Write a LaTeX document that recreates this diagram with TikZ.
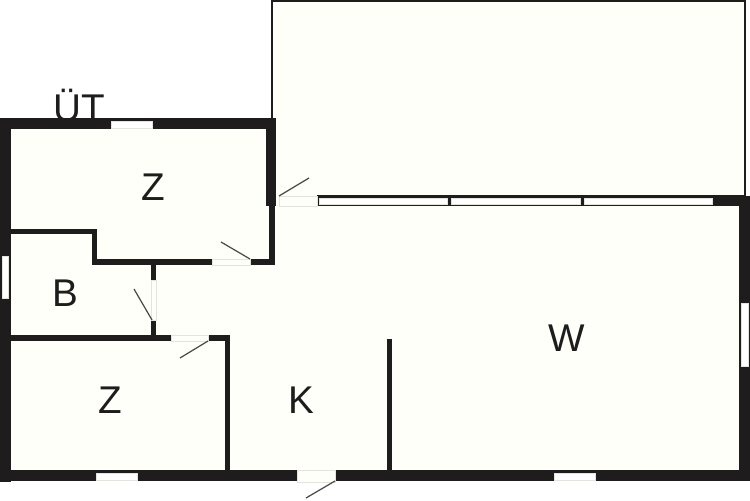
\documentclass[tikz,border=0pt]{standalone}
\usepackage{fontspec}
\setmainfont{Liberation Sans}
\definecolor{floorc}{HTML}{FFFFFA}
\definecolor{wallc}{HTML}{1E1C1C}
\definecolor{gapc}{HTML}{E4E4DE}
\definecolor{swingc}{HTML}{4A4A4A}
\begin{document}
\begin{tikzpicture}[x=0.02cm,y=-0.02cm,wall/.style={fill=wallc},
                    window/.style={fill=white,draw=gapc,line width=0.3pt},
                    opening/.style={fill=floorc,draw=gapc,line width=0.4pt},
                    swing/.style={draw=swingc,line width=0.7pt},
                    room/.style={font=\fontsize{22}{24}\selectfont,text=wallc,inner sep=0pt}]

  \useasboundingbox (0,0) rectangle (750,500);

  % floors
  \fill[floorc] (272,1) rectangle (745,197);
  \fill[floorc] (5,124) -- (272,124) -- (272,200) -- (745,200) -- (745,476) -- (5,476) -- cycle;
  \draw[wallc,line width=1.1pt] (272,118) -- (272,1) -- (745,1) -- (745,197);
  \draw[wallc,line width=1.1pt] (317,196) -- (745,196);

  % outer walls
  \fill[wall] (0,118) rectangle (276,129);
  \fill[wall] (0,118) rectangle (11,482);
  \fill[wall] (0,470) rectangle (750,481);
  \fill[wall] (739,196) rectangle (750,481);
  \fill[wall] (713,197) rectangle (750,206);
  \fill[wall] (317,196) rectangle (713,206);

  % inner walls
  \fill[wall] (266,118) rectangle (276,206);
  \fill[wall] (269,206) rectangle (275,265);
  \fill[wall] (92,259) rectangle (275,265);
  \fill[wall] (92,229) rectangle (97,265);
  \fill[wall] (11,229) rectangle (97,234);
  \fill[wall] (151,265) rectangle (156,337);
  \fill[wall] (11,335) rectangle (230,341);
  \fill[wall] (225,335) rectangle (230,470);
  \fill[wall] (387,339) rectangle (392,470);

  % door openings
  \path[opening] (279,196) rectangle (317,206);
  \path[opening] (212,259) rectangle (250,265);
  \path[opening] (151,280) rectangle (156,320);
  \path[opening] (171,335) rectangle (208,341);
  \path[opening] (297,470) rectangle (335,482);

  % door leaves
  \draw[swing] (279,196) -- (309,178);
  \draw[swing] (250,259) -- (221,242);
  \draw[swing] (152,320) -- (134,289);
  \draw[swing] (208,341) -- (180,358);
  \draw[swing] (335,481) -- (306,498);

  % windows
  \path[window] (111,121) rectangle (152,128);
  \path[window] (2,256) rectangle (8,298);
  \path[window] (96,473) rectangle (137,480);
  \path[window] (554,473) rectangle (595,480);
  \path[window] (741,303) rectangle (748,366);
  \path[window] (319,198) rectangle (447,204);
  \path[window] (451,198) rectangle (580,204);
  \path[window] (584,198) rectangle (712,204);

  \node[room] (ut) at (79,106) {ÜT};
  \node[room] (z1) at (153,187) {Z};
  \node[room] (b) at (65,293) {B};
  \node[room] (z2) at (110,400) {Z};
  \node[room] (k) at (301,400) {K};
  \node[room] (w) at (567,338) {W};
\end{tikzpicture}
\end{document}
